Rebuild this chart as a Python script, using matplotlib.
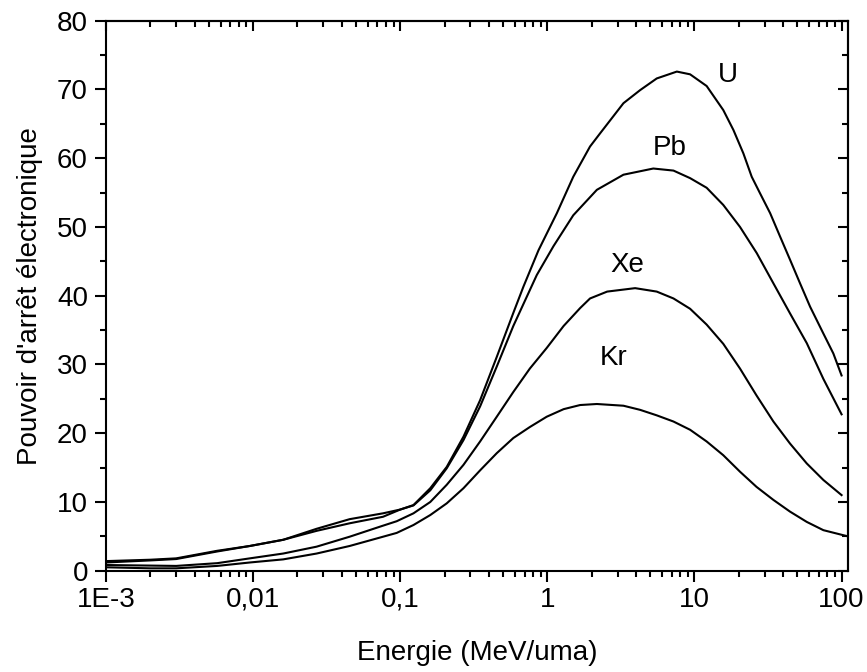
import matplotlib
matplotlib.use("Agg")
import matplotlib.pyplot as plt
from matplotlib.ticker import FixedLocator, LogLocator, NullFormatter, MultipleLocator

plt.rcParams['font.family'] = ['Liberation Sans', 'DejaVu Sans']

# Electronic stopping power vs energy per nucleon (MeV/u)
e_u = [0.001, 0.002, 0.003, 0.0057, 0.0095, 0.016, 0.027, 0.0453, 0.0764, 0.1, 0.123,
       0.16, 0.207, 0.269, 0.349, 0.453, 0.587, 0.687, 0.87, 1.16, 1.5, 1.95, 2.28, 3.29,
       4.27, 5.54, 7.59, 9.34, 12.1, 15.7, 18.4, 21.5, 24.5, 27.9, 32.7, 38.2, 44.7, 52.2,
       61.1, 75.2, 87.9, 100]
s_u = [1.4, 1.6, 1.8, 2.9, 3.6, 4.5, 6.1, 7.5, 8.35, 8.9, 9.55,
       12.0, 15.1, 19.5, 24.8, 31.1, 37.5, 41.3, 46.6, 52.0, 57.3, 61.7, 63.6, 68.0,
       69.9, 71.6, 72.6, 72.2, 70.5, 67.0, 64.1, 60.7, 57.3, 54.9, 52.0, 48.6, 45.2, 41.8,
       38.4, 34.5, 31.6, 28.4]

e_pb = [0.001, 0.002, 0.003, 0.0057, 0.0095, 0.016, 0.027, 0.0453, 0.0764, 0.1, 0.123,
        0.16, 0.207, 0.269, 0.349, 0.453, 0.587, 0.847, 1.1, 1.5, 2.17, 3.29, 5.25, 7.2,
        9.34, 12.1, 15.7, 20.4, 26.5, 34.4, 44.7, 58.0, 75.2, 100]
s_pb = [1.2, 1.5, 1.7, 2.8, 3.6, 4.5, 5.8, 6.9, 7.85, 8.9, 9.5,
        11.7, 14.9, 19.0, 23.9, 29.7, 35.6, 43.0, 47.2, 51.7, 55.4, 57.6, 58.5, 58.2,
        57.1, 55.7, 53.2, 50.0, 46.2, 41.8, 37.4, 33.1, 27.9, 22.75]

e_xe = [0.001, 0.003, 0.0057, 0.0095, 0.016, 0.027, 0.0453, 0.075, 0.0946, 0.123, 0.16,
        0.207, 0.269, 0.349, 0.453, 0.587, 0.76, 0.99, 1.29, 1.67, 1.95, 2.55, 3.95,
        5.54, 7.2, 9.34, 12.1, 15.7, 20.4, 26.4, 34.4, 44.6, 58, 75.2, 100]
s_xe = [0.83, 0.7, 1.1, 1.8, 2.5, 3.5, 4.95, 6.5, 7.2, 8.35, 10.0,
        12.5, 15.4, 18.8, 22.4, 26.0, 29.4, 32.4, 35.6, 38.2, 39.6, 40.6, 41.1,
        40.6, 39.6, 38.1, 35.8, 33.0, 29.4, 25.5, 21.7, 18.5, 15.6, 13.2, 11.0]

e_kr = [0.001, 0.002, 0.003, 0.0057, 0.0095, 0.016, 0.027, 0.0453, 0.075, 0.0946, 0.123,
        0.16, 0.207, 0.269, 0.349, 0.453, 0.587, 0.76, 0.99, 1.29, 1.67, 2.17, 3.29,
        4.27, 5.54, 7.2, 9.34, 12.1, 15.7, 20.4, 26.4, 34.4, 44.6, 58, 75.2, 108]
s_kr = [0.5, 0.35, 0.35, 0.7, 1.2, 1.65, 2.5, 3.6, 4.9, 5.5, 6.65,
        8.1, 9.8, 12.0, 14.6, 17.1, 19.3, 20.9, 22.4, 23.5, 24.1, 24.25, 24.0,
        23.4, 22.6, 21.7, 20.5, 18.8, 16.8, 14.4, 12.2, 10.3, 8.6, 7.1, 5.9, 5.05]

labels = ["U", "Pb", "Xe", "Kr"]
label_pos = [(16.9, 71.1), (6.78, 60.5), (3.51, 43.45), (2.80, 29.9)]

x_ticks = [1e-3, 1e-2, 1e-1, 1, 10, 100]
x_tick_labels = ["1E-3", "0,01", "0,1", "1", "10", "100"]

FS = 20

fig = plt.figure(figsize=(8.67, 6.72), dpi=100)
ax = fig.add_axes([0.1223, 0.1507, 0.8554, 0.8185])

for e, s in [(e_u, s_u), (e_pb, s_pb), (e_xe, s_xe), (e_kr, s_kr)]:
    ax.plot(e, s, color="black", lw=1.5, solid_joinstyle="round")

for lab, (lx, ly) in zip(labels, label_pos):
    ax.text(lx, ly, lab, fontsize=FS, ha="center", va="baseline")

ax.set_xscale("log")
ax.set_xlim(1e-3, 110)
ax.set_ylim(0, 80)
ax.xaxis.set_major_locator(FixedLocator(x_ticks))
ax.set_xticklabels(x_tick_labels)
ax.xaxis.set_minor_locator(LogLocator(base=10, subs=range(2, 10), numticks=20))
ax.xaxis.set_minor_formatter(NullFormatter())
ax.yaxis.set_major_locator(MultipleLocator(10))
ax.yaxis.set_minor_locator(MultipleLocator(5))

for sp in ax.spines.values():
    sp.set_linewidth(1.5)

ax.tick_params(which="major", direction="out", length=8, width=1.5, labelsize=FS)
ax.tick_params(axis="y", which="major", pad=5)
ax.tick_params(which="minor", direction="out", length=4, width=1.5)

# Inward ticks on the top and right frame
top = ax.secondary_xaxis("top")
top.set_xscale("log")
top.xaxis.set_major_locator(FixedLocator(x_ticks))
top.xaxis.set_minor_locator(LogLocator(base=10, subs=range(2, 10), numticks=20))
top.tick_params(which="major", direction="in", length=7, width=1.5, labeltop=False)
top.tick_params(which="minor", direction="in", length=4, width=1.5)
right = ax.secondary_yaxis("right")
right.yaxis.set_major_locator(MultipleLocator(10))
right.yaxis.set_minor_locator(MultipleLocator(5))
right.tick_params(which="major", direction="in", length=7, width=1.5, labelright=False)
right.tick_params(which="minor", direction="in", length=4, width=1.5)
for sec in (top, right):
    for sp in sec.spines.values():
        sp.set_linewidth(1.5)

ax.set_xlabel("Energie (MeV/uma)", fontsize=FS, labelpad=20)
ax.set_ylabel("Pouvoir d'arrêt électronique", fontsize=FS, labelpad=10)

fig.savefig("out.png", dpi=100)
